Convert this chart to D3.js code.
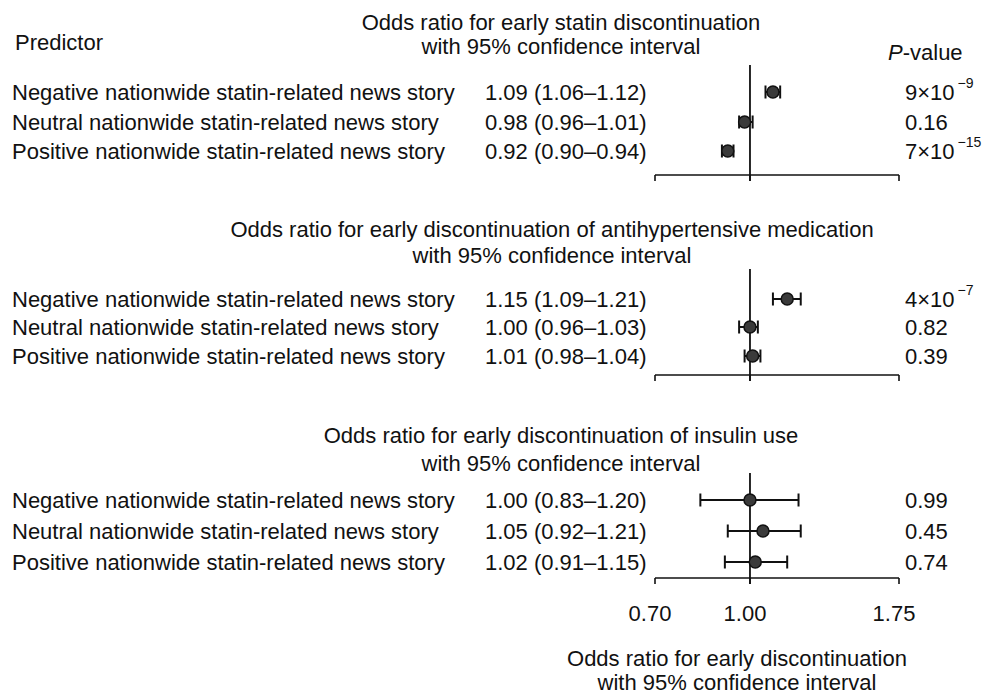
<!DOCTYPE html>
<html>
<head>
<meta charset="utf-8">
<script src="https://cdn.jsdelivr.net/npm/d3@7"></script>
<style>
  body { margin: 0; background: #fff; }
  svg text { font-family: "Liberation Sans", Arial, sans-serif; fill: #111; }
</style>
</head>
<body>
<svg id="chart" width="987" height="695"></svg>
<script>
// Predictors (same three in each outcome block)
const predictors = [
  "Negative nationwide statin-related news story",
  "Neutral nationwide statin-related news story",
  "Positive nationwide statin-related news story"
];

// Outcome titles
const outcomeTitles = [
  ["Odds ratio for early statin discontinuation", "with 95% confidence interval"],
  ["Odds ratio for early discontinuation of antihypertensive medication", "with 95% confidence interval"],
  ["Odds ratio for early discontinuation of insulin use", "with 95% confidence interval"]
];

// Odds ratios and 95% CI bounds
const statinOR = [1.09, 0.98, 0.92];
const statinLo = [1.06, 0.96, 0.90];
const statinHi = [1.12, 1.01, 0.94];
const statinP = ["9×10", "0.16", "7×10"];
const statinPExp = ["−9", "", "−15"];

const antihypOR = [1.15, 1.00, 1.01];
const antihypLo = [1.09, 0.96, 0.98];
const antihypHi = [1.21, 1.03, 1.04];
const antihypP = ["4×10", "0.82", "0.39"];
const antihypPExp = ["−7", "", ""];

const insulinOR = [1.00, 1.05, 1.02];
const insulinLo = [0.83, 0.92, 0.91];
const insulinHi = [1.20, 1.21, 1.15];
const insulinP = ["0.99", "0.45", "0.74"];
const insulinPExp = ["", "", ""];

// Axis
const axisDomain = [0.70, 1.75];
const tickValues = [0.70, 1.00, 1.75];
const axisTitle = ["Odds ratio for early discontinuation", "with 95% confidence interval"];

const panels = [
  { title: outcomeTitles[0], or: statinOR, lo: statinLo, hi: statinHi, p: statinP, pe: statinPExp },
  { title: outcomeTitles[1], or: antihypOR, lo: antihypLo, hi: antihypHi, p: antihypP, pe: antihypPExp },
  { title: outcomeTitles[2], or: insulinOR, lo: insulinLo, hi: insulinHi, p: insulinP, pe: insulinPExp }
];

// Vertical layout of each block
const layout = [
  { titleX: 561, titleY: [22, 46], rows: [92, 122, 151], refTop: 65, base: 175 },
  { titleX: 552, titleY: [229, 255], rows: [299, 327, 356], refTop: 269, base: 375 },
  { titleX: 561, titleY: [435, 463], rows: [500, 531, 562], refTop: 473, base: 578 }
];

const svg = d3.select("#chart");
const x = d3.scaleLog().domain(axisDomain).range([655, 899]);
const fs = 22;
const fmt = d3.format(".2f");

svg.append("text").attr("x", 15).attr("y", 42).attr("dy", "0.35em")
  .style("font-size", fs + "px").text("Predictor");

const pv = svg.append("text").attr("x", 888).attr("y", 52).attr("dy", "0.35em")
  .style("font-size", fs + "px");
pv.append("tspan").style("font-style", "italic").text("P");
pv.append("tspan").text("-value");

panels.forEach((pn, i) => {
  const L = layout[i];
  const g = svg.append("g");

  pn.title.forEach((t, k) => {
    g.append("text").attr("x", L.titleX).attr("y", L.titleY[k]).attr("dy", "0.35em")
      .attr("text-anchor", "middle").style("font-size", fs + "px").text(t);
  });

  // axis baseline with end ticks
  g.append("line").attr("x1", x(axisDomain[0])).attr("x2", x(axisDomain[1]))
    .attr("y1", L.base).attr("y2", L.base).attr("stroke", "#111").attr("stroke-width", 1.6);
  tickValues.forEach(v => {
    g.append("line").attr("x1", x(v)).attr("x2", x(v))
      .attr("y1", L.base).attr("y2", L.base + 6).attr("stroke", "#111").attr("stroke-width", 1.6);
  });
  // reference line at OR = 1
  g.append("line").attr("x1", x(1)).attr("x2", x(1))
    .attr("y1", L.refTop).attr("y2", L.base + 6).attr("stroke", "#111").attr("stroke-width", 1.8);

  predictors.forEach((name, j) => {
    const y = L.rows[j];
    g.append("text").attr("x", 12).attr("y", y).attr("dy", "0.35em")
      .style("font-size", fs + "px").text(name);
    g.append("text").attr("x", 485).attr("y", y).attr("dy", "0.35em")
      .style("font-size", fs + "px")
      .text(`${fmt(pn.or[j])} (${fmt(pn.lo[j])}–${fmt(pn.hi[j])})`);

    const pt = g.append("text").attr("x", 905).attr("y", y).attr("dy", "0.35em")
      .style("font-size", fs + "px");
    pt.append("tspan").text(pn.p[j]);
    if (pn.pe[j]) {
      pt.append("tspan").attr("dy", -12).attr("dx", 3)
        .style("font-size", "14px").text(pn.pe[j]);
    }

    // CI whisker
    const capH = 6.5;
    g.append("line").attr("x1", x(pn.lo[j])).attr("x2", x(pn.hi[j]))
      .attr("y1", y).attr("y2", y).attr("stroke", "#111").attr("stroke-width", 2);
    [pn.lo[j], pn.hi[j]].forEach(v => {
      g.append("line").attr("x1", x(v)).attr("x2", x(v))
        .attr("y1", y - capH).attr("y2", y + capH).attr("stroke", "#111").attr("stroke-width", 2);
    });
    g.append("circle").attr("cx", x(pn.or[j])).attr("cy", y).attr("r", 6)
      .attr("fill", "#3a3a3a").attr("stroke", "#111").attr("stroke-width", 1.5);
  });
});

// tick labels under the last block
const lastBase = layout[2].base;
tickValues.forEach(v => {
  svg.append("text").attr("x", x(v) - 5).attr("y", lastBase + 35).attr("dy", "0.35em")
    .attr("text-anchor", "middle").style("font-size", fs + "px").text(fmt(v));
});

axisTitle.forEach((t, k) => {
  svg.append("text").attr("x", 737).attr("y", [658, 682][k]).attr("dy", "0.35em")
    .attr("text-anchor", "middle").style("font-size", fs + "px").text(t);
});
</script>
</body>
</html>
